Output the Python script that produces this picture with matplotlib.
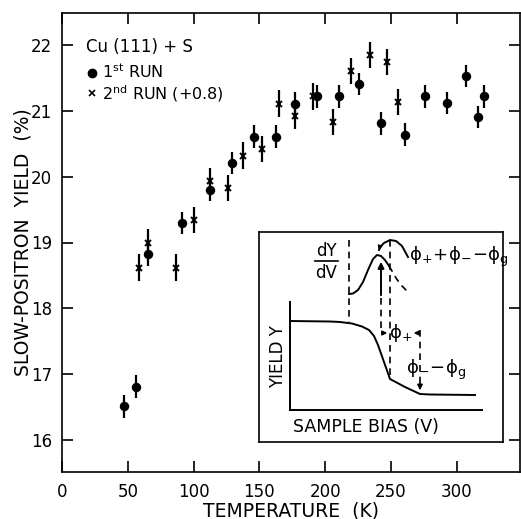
import matplotlib
matplotlib.use("Agg")
import matplotlib.pyplot as plt
import numpy as np

# ---------------- data ----------------
run1_T = [46.8, 56.5, 65.4, 91.4, 112.7, 129.5, 145.8, 162.6, 177.3, 194.1,
          210.7, 226.0, 242.5, 260.6, 275.8, 292.4, 306.9, 315.8, 320.9]
run1_Y = [16.51, 16.81, 18.82, 19.30, 19.80, 20.21, 20.61, 20.61, 21.11, 21.22,
          21.22, 21.41, 20.81, 20.64, 21.22, 21.12, 21.53, 20.91, 21.22]
run1_err = [0.17] * len(run1_T)

run2_T = [58.8, 65.1, 86.8, 100.5, 112.7, 126.2, 137.7, 151.6, 164.6, 177.3,
          191.1, 205.8, 219.8, 234.4, 247.1, 255.5]
run2_Y = [18.62, 19.00, 18.62, 19.34, 19.93, 19.83, 20.32, 20.42, 21.11, 20.92,
          21.22, 20.83, 21.61, 21.85, 21.74, 21.13]
run2_err = [0.2] * len(run2_T)

x_ticks = [0, 50, 100, 150, 200, 250, 300]
y_ticks = [16, 17, 18, 19, 20, 21, 22]

# schematic inset curves (inset drawing units)
yield_x = [290, 330, 340, 352, 362, 369, 374, 378, 384, 390, 405, 420, 430, 475]
yield_y = [321, 321.5, 322, 323.5, 326.5, 330, 336, 345, 362, 379, 387, 394, 394.5, 395]
dydv1_x = [349, 353, 358, 363, 368, 373, 377, 381, 385, 389]
dydv1_y = [294, 293.5, 290, 282, 270, 259, 255, 256, 260, 266]
tail_x = [389, 392, 396, 401, 406, 411]
tail_y = [266, 271, 278, 285, 290, 292]
dydv2_x = [379, 381, 384, 390, 396, 402, 408]
dydv2_y = [250, 246, 243, 240, 241, 246, 257]

W, H = 521, 519
fig = plt.figure(figsize=(W / 100, H / 100), dpi=100)
plt.rcParams['mathtext.default'] = 'regular'

def fx(x):
    return x / W

def fy(y):
    return 1 - y / H

# ---------------- main axes ----------------
L, R, T_, B = 62, 520, 13, 472
ax = fig.add_axes([fx(L), fy(B), (R - L) / W, (B - T_) / H])
ax.set_xlim(0, (R - L) / 1.316)
ax.set_ylim(16 - (B - 440) / 65.83, 22 + (45 - T_) / 65.83)

ax.errorbar(run1_T, run1_Y, yerr=run1_err, fmt='o', color='black', ms=5.8,
            elinewidth=1.6, capsize=0, zorder=3)
ax.errorbar(run2_T, run2_Y, yerr=run2_err, fmt='x', color='black', ms=4.5,
            mew=1.4, elinewidth=1.6, capsize=0, zorder=3)

ax.set_xticks(x_ticks)
ax.set_yticks(y_ticks)
ax.tick_params(direction='in', length=8, width=1.2, top=True, right=True,
               labelsize=12)
ax.tick_params(axis='y', pad=7)
ax.tick_params(axis='x', pad=8)
for s in ax.spines.values():
    s.set_linewidth(1.2)
ax.set_xlabel('TEMPERATURE  (K)', fontsize=13.5, va='center')
ax.xaxis.set_label_coords(0.5, -(511 - B) / (B - T_))
ax.set_ylabel('SLOW-POSITRON  YIELD  (%)', fontsize=13.5, va='center')
ax.yaxis.set_label_coords(-(L - 23) / (R - L), 0.5)

# legend-like annotations
fig.text(fx(86), fy(52), 'Cu (111) + S', fontsize=12, va='baseline', ha='left')
fig.lines.append(plt.Line2D([fx(92)], [fy(73)], marker='o', color='black', ms=6,
                            transform=fig.transFigure))
fig.text(fx(102), fy(78), r'1$^{st}$ RUN', fontsize=11.5, va='baseline', ha='left')
fig.lines.append(plt.Line2D([fx(92)], [fy(93)], marker='x', color='black', ms=4.5,
                            mew=1.2, transform=fig.transFigure))
fig.text(fx(102), fy(99), r'2$^{nd}$ RUN (+0.8)', fontsize=11.5, va='baseline', ha='left')

# ---------------- inset ----------------
iL, iR, iT, iB = 259, 503, 232, 442
ins = fig.add_axes([fx(iL), fy(iB), (iR - iL) / W, (iB - iT) / H])
ins.set_xlim(iL, iR)
ins.set_ylim(iB, iT)
ins.set_xticks([])
ins.set_yticks([])
for s in ins.spines.values():
    s.set_linewidth(1.2)

k = dict(color='black', lw=1.4)
d = dict(color='black', lw=1.2, ls=(0, (4, 3)))
# inner axes
ins.plot([290, 290], [302, 410], **k)
ins.plot([290, 482], [410, 410], **k)
# curves
ins.plot(yield_x, yield_y, **k)
ins.plot(dydv1_x, dydv1_y, **k)
ins.plot(tail_x, tail_y, **d)
ins.plot(dydv2_x, dydv2_y, **k)
ins.annotate('', xy=(378, 253), xytext=(380, 246),
             arrowprops=dict(arrowstyle='-|>', color='black', lw=0.8,
                             mutation_scale=7))
# dashed guides
ins.plot([349, 349], [240, 322], **d)
ins.plot([381, 381], [298, 333], **d)
ins.plot([390, 390], [240, 378], **d)
ins.plot([420, 420], [330, 388], **d)
ins.annotate('', xy=(381, 259), xytext=(381, 298),
             arrowprops=dict(arrowstyle='-|>', color='black', lw=1.4,
                             mutation_scale=9))
ins.annotate('', xy=(420, 393), xytext=(420, 380),
             arrowprops=dict(arrowstyle='-|>', color='black', lw=1.0,
                             mutation_scale=8))
ins.annotate('', xy=(390, 333), xytext=(380, 333),
             arrowprops=dict(arrowstyle='-|>', color='black', lw=1.0,
                             mutation_scale=7))
ins.annotate('', xy=(411, 333), xytext=(421, 333),
             arrowprops=dict(arrowstyle='-|>', color='black', lw=1.0,
                             mutation_scale=7))

# labels
ins.text(326, 251, 'dY', fontsize=12, ha='center', va='center')
ins.plot([315, 338], [261, 261], color='black', lw=1.2)
ins.text(326, 273, 'dV', fontsize=12, ha='center', va='center')
ins.text(409, 257, r'$ϕ_{+}\!+\!ϕ_{-}\!-\!ϕ_{g}$', fontsize=13,
         ha='left', va='center')
ins.text(401, 333, r'$ϕ_{+}$', fontsize=13, ha='center', va='center')
ins.text(406, 370, r'$ϕ_{-}\!-\!ϕ_{g}$', fontsize=13, ha='left', va='center')
ins.text(278, 357, 'YIELD Y', fontsize=12, rotation=90, ha='center', va='center')
ins.text(366, 427, 'SAMPLE BIAS (V)', fontsize=12.5, ha='center', va='center')

fig.savefig('out.png', dpi=100)
